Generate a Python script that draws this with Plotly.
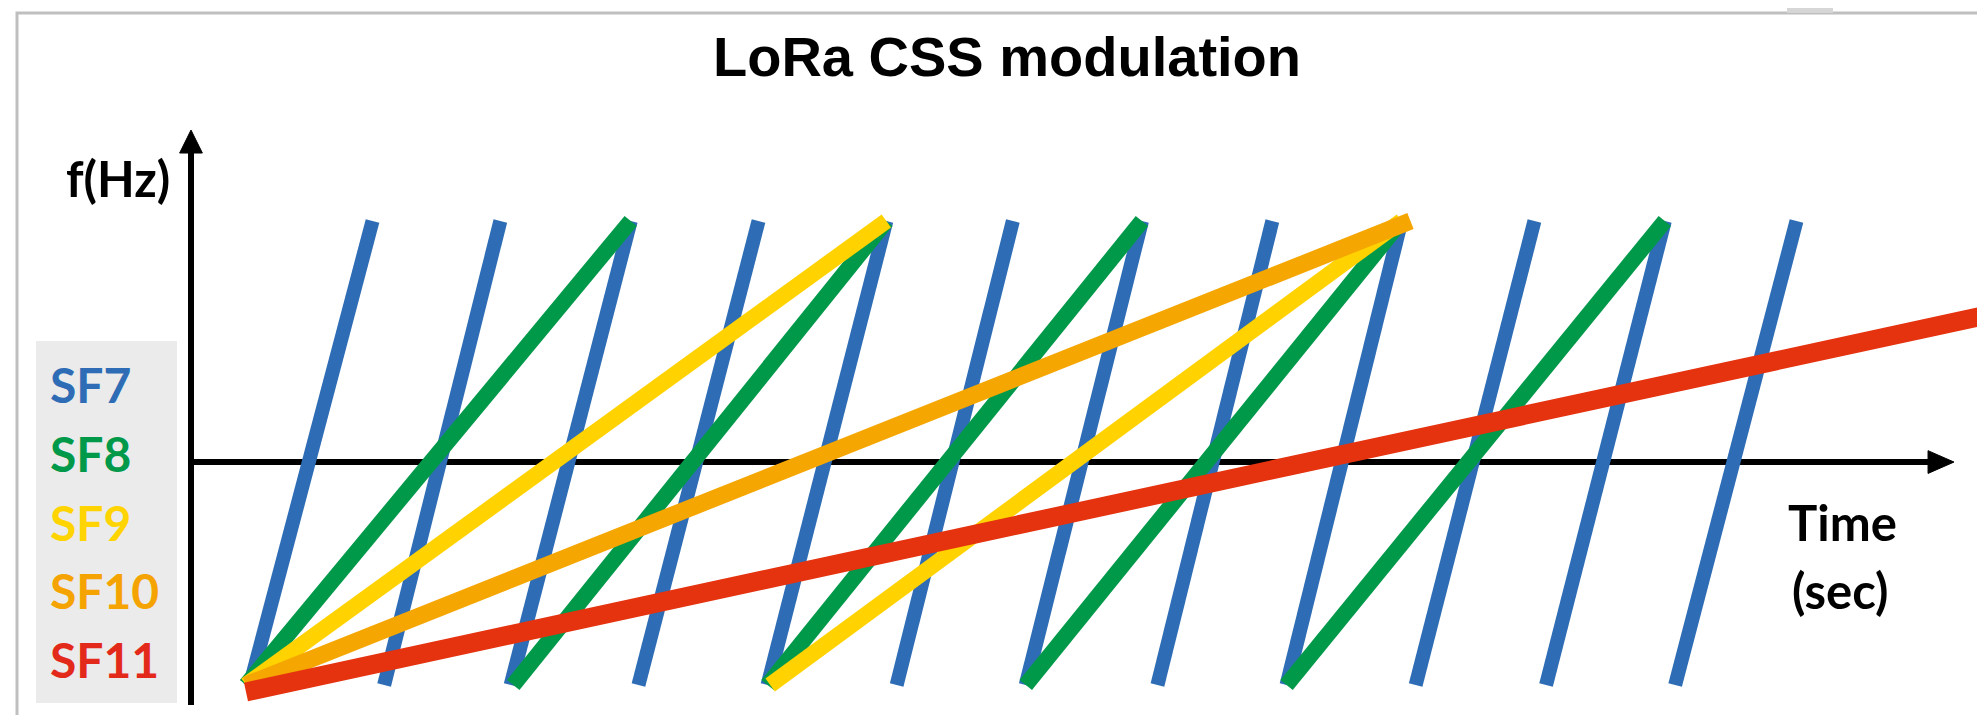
import plotly.graph_objects as go

# ---------------- data ----------------
# time in SF7-symbol units, frequency normalised (-1 = bottom of band, +1 = top)
SERIES = ["SF7", "SF8", "SF9", "SF10", "SF11"]

SF7_T_START = [0.03, 1.07, 2.05, 3.04, 4.04, 5.04, 6.04, 7.06, 8.06, 9.06, 10.07, 11.07]
SF7_T_END = [0.98, 1.97, 2.98, 3.97, 4.96, 5.94, 6.94, 7.95, 8.95, 9.98, 10.99, 12.01]
SF7_F_START = [-1.0] * 12
SF7_F_END = [1.0] * 12

SF8_T_START = [0.0, 2.07, 4.04, 6.04, 8.06]
SF8_T_END = [2.98, 4.96, 6.94, 8.95, 10.99]
SF8_F_START = [-1.0] * 5
SF8_F_END = [1.0] * 5

SF9_T_START = [0.0, 4.06]
SF9_T_END = [4.96, 8.95]
SF9_F_START = [-1.0, -1.0]
SF9_F_END = [1.0, 1.0]

SF10_T_START = [0.0]
SF10_T_END = [9.02]
SF10_F_START = [-1.0]
SF10_F_END = [1.0]

SF11_T_START = [0.0]
SF11_T_END = [13.45]
SF11_F_START = [-1.03]
SF11_F_END = [0.59]

TITLE = "LoRa CSS modulation"
Y_LABEL = "f(Hz)"
X_LABEL_1 = "Time"
X_LABEL_2 = "(sec)"

# ---------------- styles / layout ----------------
W, H = 1985, 715
COLORS = {"SF7": "#2E6DB5", "SF8": "#00994A", "SF9": "#FFD200",
          "SF10": "#F5A600", "SF11": "#E5330F"}
TEXT_COLORS = {"SF7": "#2E6DB5", "SF8": "#00994A", "SF9": "#FFD400",
               "SF10": "#F5A300", "SF11": "#E3291A"}
WIDTHS = {"SF7": 14, "SF8": 16, "SF9": 16, "SF10": 17, "SF11": 19}
AXIS_WIDTH = 6

# pixel mapping of the data space (plot area = whole figure)
T0_PX, T_UNIT_PX = 238.0, 129.1
F0_PX, F_UNIT_PX = 445.0, 232.0
X_RANGE = [(0 - T0_PX) / T_UNIT_PX, (W - T0_PX) / T_UNIT_PX]
Y_RANGE = [(F0_PX - H) / F_UNIT_PX, F0_PX / F_UNIT_PX]


def px(x):
    return x / W


def py(y):
    return 1 - y / H


segments = {
    "SF7": (SF7_T_START, SF7_T_END, SF7_F_START, SF7_F_END),
    "SF8": (SF8_T_START, SF8_T_END, SF8_F_START, SF8_F_END),
    "SF9": (SF9_T_START, SF9_T_END, SF9_F_START, SF9_F_END),
    "SF10": (SF10_T_START, SF10_T_END, SF10_F_START, SF10_F_END),
    "SF11": (SF11_T_START, SF11_T_END, SF11_F_START, SF11_F_END),
}

fig = go.Figure()
for name in SERIES:
    t0, t1, f0, f1 = segments[name]
    xs, ys = [], []
    for a, b, c, d in zip(t0, t1, f0, f1):
        xs += [a, b, None]
        ys += [c, d, None]
    fig.add_trace(go.Scatter(x=xs, y=ys, mode="lines", name=name,
                             line=dict(color=COLORS[name], width=WIDTHS[name]),
                             hoverinfo="skip", showlegend=False))

# axes drawn as arrows (below the chirps)
AXIS_T = -0.426      # frequency axis position (time)
AXIS_F = -0.039      # time axis position (frequency)
Y_AX_BOTTOM, Y_AX_BASE, Y_AX_TIP, Y_HALF = -1.086, 1.293, 1.392, 0.088
X_AX_BASE, X_AX_TIP, X_HALF = 13.029, 13.23, 0.049

shapes = [
    # outer frame
    dict(type="rect", xref="paper", yref="paper", x0=px(9), x1=px(1975),
         y0=py(712), y1=py(5), line=dict(color="#bfbfbf", width=3), layer="below"),
    # small grey artefact at top edge
    dict(type="rect", xref="paper", yref="paper", x0=px(1779), x1=px(1825),
         y0=py(5), y1=py(0), fillcolor="#d6d6d6", line=dict(width=0), layer="below"),
    # legend box
    dict(type="rect", xref="paper", yref="paper", x0=px(28), x1=px(169),
         y0=py(695), y1=py(333), fillcolor="#ebebeb", line=dict(width=0), layer="below"),
    # frequency axis
    dict(type="line", xref="x", yref="y", x0=AXIS_T, x1=AXIS_T, y0=Y_AX_BOTTOM,
         y1=Y_AX_BASE + 0.02, line=dict(color="black", width=AXIS_WIDTH), layer="below"),
    dict(type="path", xref="x", yref="y",
         path=f"M {AXIS_T - Y_HALF},{Y_AX_BASE} L {AXIS_T + Y_HALF},{Y_AX_BASE} L {AXIS_T},{Y_AX_TIP} Z",
         fillcolor="black", line=dict(color="black", width=1), layer="below"),
    # time axis
    dict(type="line", xref="x", yref="y", x0=AXIS_T, x1=X_AX_BASE + 0.02, y0=AXIS_F,
         y1=AXIS_F, line=dict(color="black", width=AXIS_WIDTH), layer="below"),
    dict(type="path", xref="x", yref="y",
         path=f"M {X_AX_BASE},{AXIS_F - X_HALF} L {X_AX_BASE},{AXIS_F + X_HALF} L {X_AX_TIP},{AXIS_F} Z",
         fillcolor="black", line=dict(color="black", width=1), layer="below"),
]

LABEL_FONT = "Lato"
annotations = [
    dict(text=TITLE, x=px(999), y=py(49), xref="paper", yref="paper",
         xanchor="center", yanchor="middle", showarrow=False,
         font=dict(family="Liberation Sans", size=56, color="black", weight="bold")),
    dict(text=Y_LABEL, x=px(110), y=py(170), xref="paper", yref="paper",
         xanchor="center", yanchor="middle", showarrow=False,
         font=dict(family=LABEL_FONT, size=49, color="black", weight="bold")),
    dict(text=X_LABEL_1, x=px(1834), y=py(514), xref="paper", yref="paper",
         xanchor="center", yanchor="middle", showarrow=False,
         font=dict(family=LABEL_FONT, size=49, color="black", weight="bold")),
    dict(text=X_LABEL_2, x=px(1832), y=py(582), xref="paper", yref="paper",
         xanchor="center", yanchor="middle", showarrow=False,
         font=dict(family=LABEL_FONT, size=49, color="black", weight="bold")),
]
LEGEND_Y_PX = [377, 445.5, 514, 582.5, 651]
for name, ypx in zip(SERIES, LEGEND_Y_PX):
    annotations.append(dict(text=name, x=px(40), y=py(ypx), xref="paper", yref="paper",
                            xanchor="left", yanchor="middle", showarrow=False,
                            font=dict(family=LABEL_FONT, size=48,
                                      color=TEXT_COLORS[name], weight="bold")))

fig.update_layout(
    width=W, height=H, autosize=False,
    margin=dict(l=0, r=0, t=0, b=0, pad=0),
    paper_bgcolor="white", plot_bgcolor="white",
    xaxis=dict(range=X_RANGE, visible=False, fixedrange=True),
    yaxis=dict(range=Y_RANGE, visible=False, fixedrange=True),
    shapes=shapes, annotations=annotations,
)

fig.write_html("out.html")
